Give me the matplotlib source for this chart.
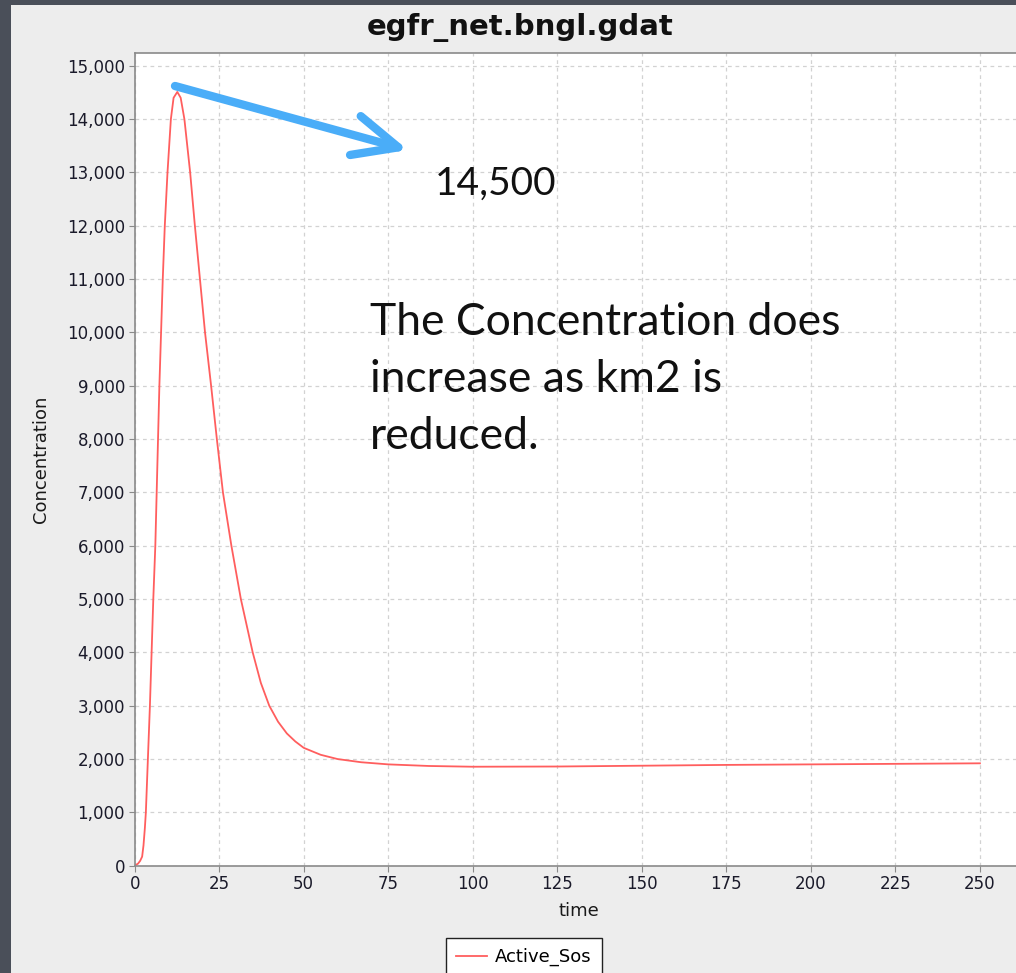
import matplotlib.pyplot as plt
from matplotlib.patches import Rectangle, FancyArrowPatch
from matplotlib.ticker import FuncFormatter, MultipleLocator

# ---------------------------
# Data
# ---------------------------

time = [0, 1, 1.6, 2.2, 2.6, 3.0, 3.3, 3.9, 4.5, 5.0, 5.5, 6.1, 6.5, 6.9,
        7.3, 7.8, 8.3, 8.9, 9.7, 10.7, 11.5, 12.6, 13.6, 14.7, 16.4, 17.8,
        19.3, 20.8, 22.6, 24.3, 26.1, 28.6, 31.4, 34.9, 37.3, 39.8, 42.4,
        45, 47.5, 50, 55, 60, 67, 75, 87, 100, 125, 150, 175, 200, 225, 250]
active_sos = [0, 40, 90, 170, 380, 700, 1000, 2000, 3000, 4000, 5000, 6000,
              7000, 8000, 9000, 10000, 11000, 12000, 13000, 14000, 14400,
              14510, 14400, 14000, 13000, 12000, 11000, 10000, 9000, 8000,
              7000, 6000, 5000, 4000, 3430, 3000, 2700, 2480, 2330, 2210,
              2080, 2000, 1940, 1900, 1870, 1856, 1860, 1875, 1890, 1900,
              1910, 1920]

title = "egfr_net.bngl.gdat"
series_name = "Active_Sos"
note_value = "14,500"
note_lines = ["The Concentration does", "increase as km2 is", "reduced."]

W, H = 1016, 973

fig = plt.figure(figsize=(W / 100, H / 100), dpi=100)
fig.patch.set_facecolor("#4a4f59")

# light chart panel on top of the dark slide background
fig.add_artist(Rectangle((11 / W, 0), 1, 1 - 5 / H, transform=fig.transFigure,
                         facecolor="#ededed", edgecolor="none", zorder=0))

ax = fig.add_axes([134.7 / W, 1 - 865.7 / H, 887.5 / W, 812.7 / H])
ax.set_facecolor("white")

ax.plot(time, active_sos, color="#ff5e5e", lw=1.3, label=series_name)

ax.set_xlim(0, 262.5)
ax.set_ylim(0, 15240)
ax.xaxis.set_major_locator(MultipleLocator(25))
ax.yaxis.set_major_locator(MultipleLocator(1000))
ax.yaxis.set_major_formatter(FuncFormatter(lambda v, p: f"{int(v):,}"))

ax.grid(True, color="#d2d2d2", linestyle=(0, (3, 3)), lw=0.9)
for s in ax.spines.values():
    s.set_color("#8a8a8a")
    s.set_linewidth(1.2)
ax.tick_params(direction="out", length=4, color="#8a8a8a", labelsize=12,
               labelcolor="#1a1a2a", pad=3)

ax.set_xlabel("time", fontsize=13, color="#1a1a1a", labelpad=6)
ax.set_ylabel("Concentration", fontsize=13, color="#1a1a1a", labelpad=12)

fig.text(520 / W, 1 - 28 / H, title, ha="center", va="center",
         fontsize=21, fontweight="bold", color="#111111")

fig.legend(loc="upper center", bbox_to_anchor=(524 / W, 1 - 938 / H),
           borderaxespad=0, fontsize=13, frameon=True, fancybox=False,
           edgecolor="#222222", framealpha=1, handlelength=1.7,
           handletextpad=0.45, borderpad=0.55)

# ---------------------------
# Slide annotation
# ---------------------------

arrow = FancyArrowPatch((175 / W, 1 - 86 / H), (408 / W, 1 - 150 / H),
                        transform=fig.transFigure,
                        arrowstyle="->,head_length=3.2,head_width=1.45",
                        mutation_scale=10, color="#4aadf8", lw=6,
                        shrinkA=0, shrinkB=0,
                        capstyle="round", joinstyle="round")
fig.add_artist(arrow)

fig.text(435 / W, 1 - 195 / H, note_value, fontsize=28, family="Lato",
         color="#111111", va="baseline")
for i, txt in enumerate(note_lines):
    fig.text(370 / W, 1 - (335 + 57 * i) / H, txt, fontsize=32,
             family="Lato", color="#111111", va="baseline")

fig.savefig("out.png", dpi=100)
